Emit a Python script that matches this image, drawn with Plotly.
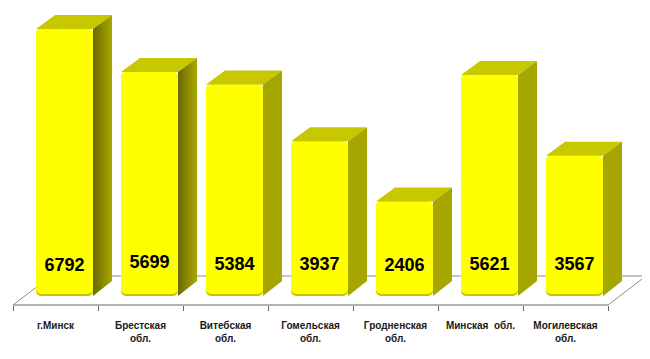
import plotly.graph_objects as go

categories = ["г.Минск", "Брестская<br>обл.", "Витебская<br>обл.", "Гомельская<br>обл.",
              "Гродненская<br>обл.", "Минская  обл.", "Могилевская<br>обл."]
values = [6792, 5699, 5384, 3937, 2406, 5621, 3567]
label_heights = [740, 815, 765, 765, 740, 765, 765]
shaded_sides = [True, True, False, False, False, False, False]

PX_X = 85.0
PX_Y = 0.0393
W, H = 642, 351       # the page's own 8px margin brings this to the full window
x0_px = 47.5          # centre of the first slot
y0_px = 288.0         # zero line
front_px = 297.0
bar_shift = 9 / PX_X
bar_w = 57 / PX_X
dx = 19 / PX_X
dy = 14 / PX_Y
rim = 2 / PX_Y
xs = list(range(len(values)))
cx = [x + bar_shift for x in xs]

fig = go.Figure()
# darker rim under each bar, then the bright front face
fig.add_trace(go.Bar(x=cx, y=[-v for v in values], base=values, width=bar_w,
                     marker=dict(color="#c4c400", cornerradius=5, line=dict(width=0)),
                     hoverinfo="skip"))
fig.add_trace(go.Bar(x=cx, y=[rim - v for v in values], base=values, width=bar_w,
                     marker=dict(color="#ffff00", cornerradius=5, line=dict(width=0)),
                     hoverinfo="skip"))
for c, v, shaded in zip(cx, values, shaded_sides):
    l, r = c - bar_w / 2, c + bar_w / 2
    fig.add_trace(go.Scatter(x=[l, r, r + dx, l + dx, l], y=[v, v, v + dy, v + dy, v],
                             mode="lines", fill="toself", fillcolor="#c8c800",
                             line=dict(width=0), hoverinfo="skip"))
    side = dict(x=[r, r + dx, r + dx, r, r], y=[v, v + dy, dy + 25, 0, v],
                mode="lines", fill="toself", line=dict(width=0), hoverinfo="skip")
    if shaded:
        side["fillgradient"] = dict(type="horizontal",
                                    colorscale=[[0, "#686800"], [0.5, "#8a8a00"], [1, "#a8a800"]])
    else:
        side["fillcolor"] = "#a6a600"
    fig.add_trace(go.Scatter(**side))
fig.add_trace(go.Scatter(x=cx, y=label_heights, text=[str(v) for v in values], mode="text",
                         textfont=dict(family="Liberation Sans", size=18, color="#000000", weight="bold"),
                         hoverinfo="skip"))

y_front = -(front_px - y0_px) / PX_Y
y_back = 20 / PX_Y
x_left = -0.5
x_right = 6.5
floor_dx = 38 / PX_X
line = dict(color="#8a8a8a", width=1)
fig.update_layout(
    width=W, height=H, showlegend=False, plot_bgcolor="white", paper_bgcolor="white",
    margin=dict(l=0, r=0, t=0, b=0),
    barmode="overlay",
    xaxis=dict(domain=[0, 1], range=[-x0_px / PX_X, (W - x0_px) / PX_X], showgrid=False, zeroline=False,
               showline=False, tickmode="array", tickvals=xs, ticktext=categories, ticks="",
               tickfont=dict(family="Liberation Sans", size=10, color="#1a1a1a", weight="bold"),
               minor=dict(tickmode="array", tickvals=[x - 0.5 for x in xs] + [x_right],
                          ticks="outside", ticklen=5, tickcolor="#666666", showgrid=False),
               ticklabelstandoff=13, automargin=False, anchor="free", position=(H - front_px) / H),
    yaxis=dict(domain=[0, 1], range=[-(H - y0_px) / PX_Y, y0_px / PX_Y], visible=False),
    shapes=[
        dict(type="line", layer="below", xref="x", yref="y", x0=x_left, x1=x_right, y0=y_front, y1=y_front,
             line=dict(color="#666666", width=1)),
        dict(type="line", layer="below", xref="x", yref="y", x0=x_left, x1=x_left + floor_dx, y0=y_front, y1=y_back, line=line),
        dict(type="line", layer="below", xref="x", yref="y", x0=x_right, x1=x_right + floor_dx, y0=y_front, y1=y_back, line=line),
        dict(type="line", layer="below", xref="x", yref="y", x0=x_left + floor_dx, x1=x_right + floor_dx, y0=y_back, y1=y_back, line=line),
    ],
)
fig.write_html("out.html", config=dict(displayModeBar=False))
